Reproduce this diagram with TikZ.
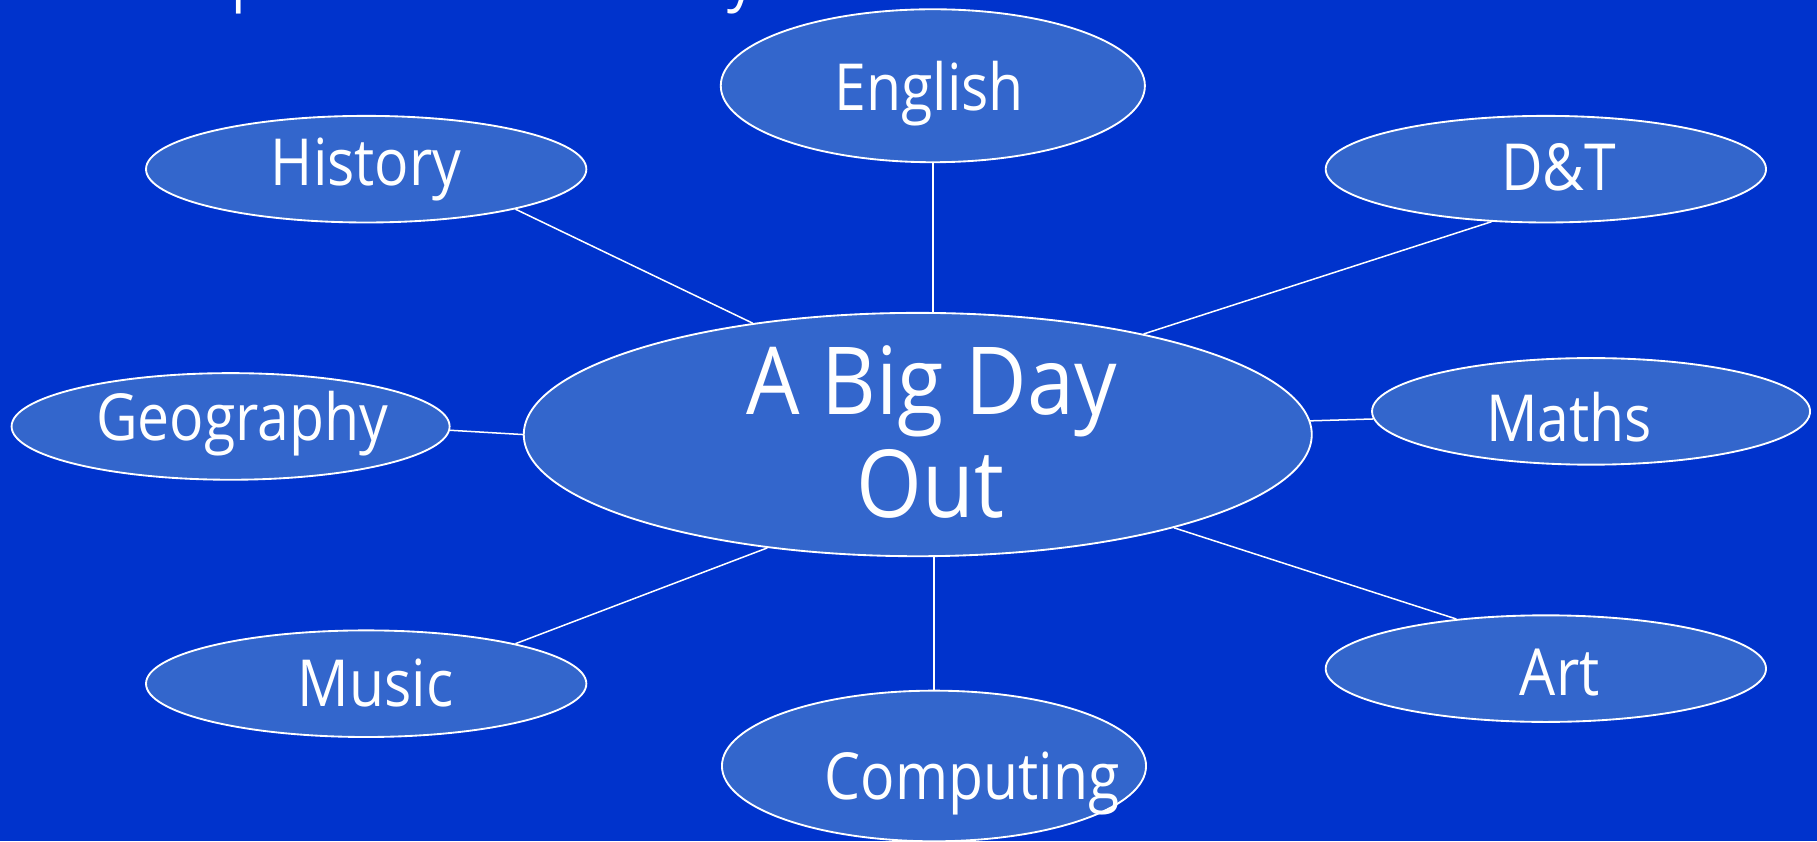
\documentclass[tikz,border=0pt]{standalone}
\usepackage{fontspec}
\setmainfont{Open Sans}
\usetikzlibrary{shapes.geometric}
\definecolor{bgblue}{RGB}{0,51,204}
\definecolor{fillblue}{RGB}{51,102,204}
\begin{document}
\begin{tikzpicture}[x=1pt,y=1pt,
  topic/.style={ellipse, draw=white, line width=1.6pt, fill=fillblue, inner sep=0pt},
  lbl/.style={text=white, anchor=base, inner sep=0pt, xscale=0.88, transform shape, font=\fontsize{56}{60}\selectfont},
  biglbl/.style={text=white, anchor=base, inner sep=0pt, xscale=0.9, transform shape, font=\fontsize{81}{90}\selectfont},
  link/.style={draw=white, line width=1.3pt}]
\clip (0,0) rectangle (1568,726);
\fill[bgblue] (0,0) rectangle (1568,726);
% title fragments cut off at top
\node[lbl, anchor=base west] (tp) at (200,727) {p};
\node[lbl, anchor=base west] (ty) at (628,727) {y};
% ellipses
\node[topic, minimum width=680pt, minimum height=210pt] (central) at (792,351) {};
\node[topic, minimum width=366pt, minimum height=132pt] (english) at (805,652) {};
\node[topic, minimum width=380pt, minimum height=92pt] (history) at (316,580) {};
\node[topic, minimum width=380pt, minimum height=92pt] (dt) at (1334,580) {};
\node[topic, minimum width=378pt, minimum height=92pt] (geo) at (199,358) {};
\node[topic, minimum width=378pt, minimum height=92pt] (maths) at (1373,371) {};
\node[topic, minimum width=380pt, minimum height=92pt] (music) at (316,136) {};
\node[topic, minimum width=380pt, minimum height=92pt] (art) at (1334,149) {};
\node[topic, minimum width=366pt, minimum height=130pt] (computing) at (806,65) {};
% labels
\node[biglbl] (tbig) at (804,368) {A Big Day};
\node[biglbl] (tout) at (803,279) {Out};
\node[lbl] (tenglish) at (802,631) {English};
\node[lbl] (thistory) at (316,566) {History};
\node[lbl] (tdt) at (1345,562) {D\&T};
\node[lbl] (tgeo) at (209,346) {Geography};
\node[lbl] (tmaths) at (1354,345) {Maths};
\node[lbl] (tmusic) at (324,116) {Music};
\node[lbl] (tart) at (1346,126) {Art};
\node[lbl] (tcomputing) at (839,36) {Computing};
% connectors
\draw[link] (english.south) -- (english.south |- central.north);
\draw[link] (history.-15) -- (central.146);
\draw[link] (dt.-136) -- (central.24);
\draw[link] (geo.-1) -- (central.180);
\draw[link] (maths.182) -- (central.2.5);
\draw[link] (music.15) -- (central.217);
\draw[link] (art.151) -- (central.-20);
\draw[link] (computing.north) -- (computing.north |- central.south);
\end{tikzpicture}
\end{document}
